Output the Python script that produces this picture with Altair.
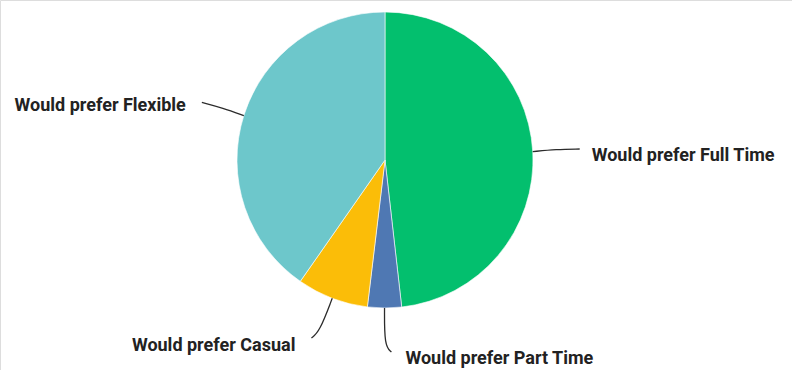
import math
import altair as alt
import pandas as pd

# Survey shares (percent) for each work-arrangement preference
categories = [
    "Would prefer Full Time",
    "Would prefer Part Time",
    "Would prefer Casual",
    "Would prefer Flexible",
]
shares = [48.2, 3.7, 7.8, 40.3]
colors = ["#03bf6e", "#4f78b3", "#fbbd08", "#6dc7cb"]

# Layout (pixels)
W, H = 792, 370
CX, CY, R = 385, 160, 148
# leader line: radial extension beyond the rim, then a small hook (dx, dy)
leader_len = [47, 38, 36, 44]
hook = [(0, 0), (7, 6), (-8, 6), (0, 0)]
# label anchor relative to the leader end: (dx, dy, align)
label_off = [(12, 7, "left"), (14, 7, "left"), (-16, 8, "right"), (-16, 4, "right")]

total = sum(shares)
rows, line_rows, text_rows = [], [], []
start = 0.0
for i, (cat, val) in enumerate(zip(categories, shares)):
    rows.append({"category": cat, "share": val, "idx": i})
    mid = (start + val / 2) / total * 2 * math.pi
    start += val
    sx, sy = math.sin(mid), -math.cos(mid)
    p0 = (CX + R * sx, CY + R * sy)
    p1 = (CX + (R + leader_len[i]) * sx, CY + (R + leader_len[i]) * sy)
    p2 = (p1[0] + hook[i][0], p1[1] + hook[i][1])
    pts = [p0, p1, p2] if hook[i] != (0, 0) else [p0, ((p0[0] + p1[0]) / 2, (p0[1] + p1[1]) / 2 - 1), p1]
    for k, (x, y) in enumerate(pts):
        line_rows.append({"category": cat, "step": k, "px": x, "py": y})
    dx, dy, al = label_off[i]
    text_rows.append({"category": cat, "px": pts[-1][0] + dx, "py": pts[-1][1] + dy, "align": al})

pie_df = pd.DataFrame(rows)
line_df = pd.DataFrame(line_rows)
text_df = pd.DataFrame(text_rows)

xs = alt.Scale(domain=[0, W], range=[0, W])
ys = alt.Scale(domain=[0, H], range=[0, H])

pie = alt.Chart(pie_df).mark_arc(outerRadius=R, stroke="#ffffff", strokeWidth=0.6).encode(
    theta=alt.Theta("share:Q", stack=True),
    color=alt.Color("category:N", scale=alt.Scale(domain=categories, range=colors), legend=None),
    order=alt.Order("idx:Q"),
    x=alt.value(CX),
    y=alt.value(CY),
)

leaders = alt.Chart(line_df).mark_line(interpolate="basis", color="#2b2b2b", strokeWidth=1.3).encode(
    x=alt.X("px:Q", scale=xs, axis=None),
    y=alt.Y("py:Q", scale=ys, axis=None),
    detail="category:N",
    order="step:Q",
)

def label_layer(align):
    return alt.Chart(text_df[text_df["align"] == align]).mark_text(
        align=align, baseline="middle", font="Roboto", fontSize=18, fontWeight="bold", color="#222222"
    ).encode(
        x=alt.X("px:Q", scale=xs, axis=None),
        y=alt.Y("py:Q", scale=ys, axis=None),
        text="category:N",
    )

chart = alt.layer(pie, leaders, label_layer("left"), label_layer("right")).properties(
    width=W, height=H, padding=0, autosize=alt.AutoSizeParams(type="none")
).configure_view(stroke=None).configure(background="#ffffff")

chart.save("out.html", embed_options={"renderer": "svg", "actions": False})
